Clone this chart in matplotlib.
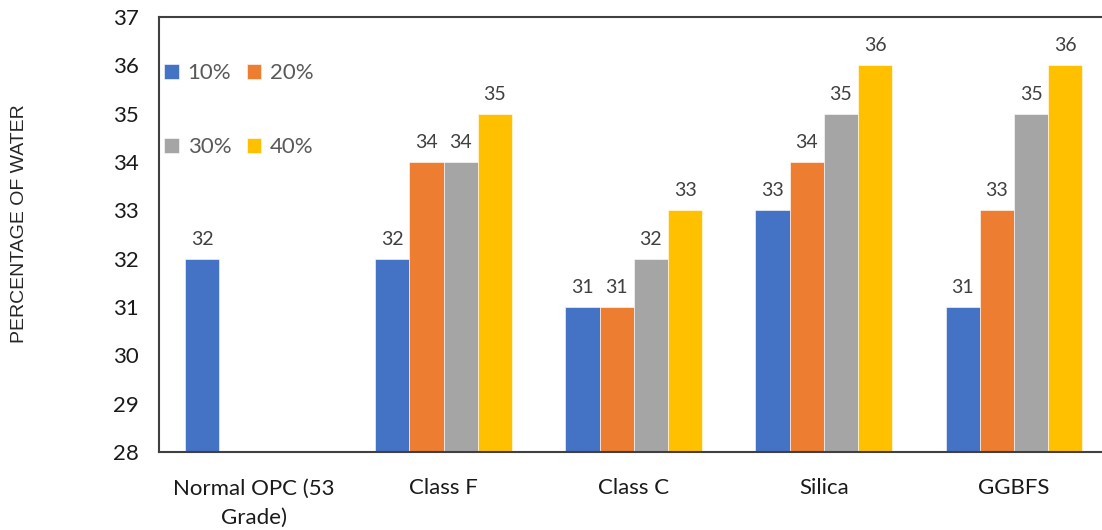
import numpy as np
import matplotlib as mpl
import matplotlib.pyplot as plt

mpl.rcParams['font.family'] = ['Lato', 'DejaVu Sans']

# Water demand for each cement blend, per replacement level
categories = ['Normal OPC (53\nGrade)', 'Class F', 'Class C', 'Silica', 'GGBFS']
series_labels = ['10%', '20%', '30%', '40%']
water_10 = [32, 32, 31, 33, 31]
water_20 = [np.nan, 34, 31, 34, 33]
water_30 = [np.nan, 34, 32, 35, 35]
water_40 = [np.nan, 35, 33, 36, 36]
y_ticks = list(range(28, 38))

colors = ['#4472C4', '#ED7D31', '#A5A5A5', '#FFC000']

fig = plt.figure(figsize=(11.02, 5.30), dpi=100)
ax = fig.add_axes([158.5/1102, 78/530, 950.5/1102, 435/530])

x = np.arange(len(categories))
width = 0.18
all_series = [water_10, water_20, water_30, water_40]
handles = []
for i, (vals, lab, col) in enumerate(zip(all_series, series_labels, colors)):
    pos = x + (i - 1.5)*width
    bars = ax.bar(pos, np.nan_to_num(vals, nan=0), width, color=col,
                  label=lab, edgecolor='white', linewidth=0.4)
    handles.append(bars)
    for p, v in zip(pos, vals):
        if np.isnan(v):
            continue
        ax.annotate(f'{v:.0f}', (p, v), xytext=(0, 8), textcoords='offset points',
                    ha='center', va='bottom', fontsize=14, color='#404040')

ax.set_ylim(28, 37)
ax.set_xlim(-0.5, 4.5)
ax.set_yticks(y_ticks)
ax.set_xticks(x)
ax.set_xticklabels(categories, fontsize=16, color='#1a1a1a', linespacing=1.6)
ax.tick_params(axis='y', length=0, pad=14, labelsize=16, labelcolor='#1a1a1a')
ax.tick_params(axis='x', length=0, pad=19)

for side in ['top', 'left', 'bottom']:
    ax.spines[side].set_color('#404040')
    ax.spines[side].set_linewidth(1.5)
ax.spines['right'].set_visible(False)

fig.text(20/1102, 1 - 224/530, 'PERCENTAGE OF WATER', rotation=90,
         ha='center', va='center', fontsize=14, color='#262626',
         family='Liberation Sans')

# legend fills column-major, so order handles to read 10 20 / 30 40 by rows
order = [0, 2, 1, 3]
leg = ax.legend([handles[k] for k in order], [series_labels[k] for k in order],
                ncol=2, frameon=False, loc='upper left',
                bbox_to_anchor=(-0.008, 0.925), fontsize=16,
                handlelength=0.65, handleheight=0.65, handletextpad=0.4,
                columnspacing=0.7, labelspacing=2.45, borderaxespad=0.2)
for t in leg.get_texts():
    t.set_color('#595959')

fig.savefig('out.png', dpi=100)
